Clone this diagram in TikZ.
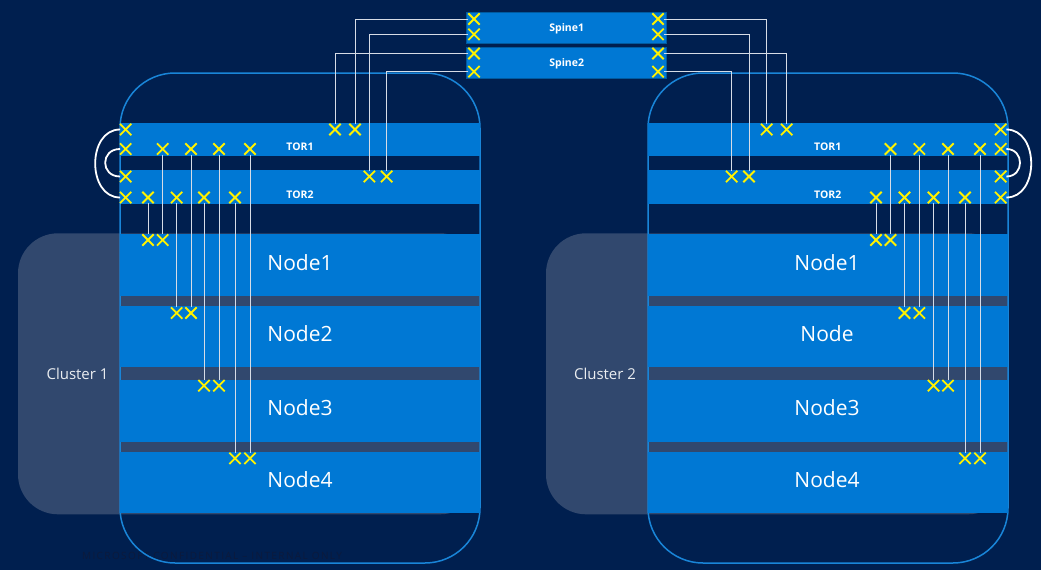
\documentclass[tikz,border=0pt]{standalone}
\usepackage{fontspec}
\setmainfont{Open Sans}
\newfontfamily\noticefont[LetterSpace=14]{Open Sans}
\usetikzlibrary{shapes.misc}
\definecolor{navy}{HTML}{001F4F}
\definecolor{azure}{HTML}{0078D4}
\definecolor{slate}{HTML}{31486E}
\definecolor{portx}{HTML}{FFF200}
\definecolor{wire}{HTML}{D6DCE6}
\definecolor{faint}{HTML}{0C1A3C}
\pgfdeclarelayer{back}
\pgfdeclarelayer{wires}
\pgfsetlayers{back,wires,main}
\begin{document}
\begin{tikzpicture}[x=1pt,y=-1pt,
  band/.style={fill=azure, inner sep=0, minimum width=360pt, draw=none},
  spinebox/.style={fill=azure, draw=azure!75!black, line width=0.8pt,
    minimum width=200pt, minimum height=31pt, inner sep=0},
  port/.style={cross out, draw=portx, line width=1.8pt, minimum size=9.5pt, inner sep=0},
  container/.style={draw=azure!90!white, line width=1.5pt, rounded corners=55pt,
    minimum width=360pt, minimum height=490pt, inner sep=0},
  clusterbg/.style={fill=slate, rounded corners=40pt,
    minimum width=462pt, minimum height=281pt, inner sep=0},
  link/.style={draw=wire, line width=1pt},
  loop/.style={draw=white, line width=1.8pt},
  swlabel/.style={text=white, font=\bfseries\fontsize{10.5}{12}\selectfont, inner sep=0},
  hostlabel/.style={text=white, font=\fontsize{21}{24}\selectfont, inner sep=0},
  grouplabel/.style={text=white!90!slate, font=\fontsize{15}{18}\selectfont, inner sep=0},
]
\useasboundingbox (0,0) rectangle (1041,570);

% ---------- shapes behind the wiring ----------
\begin{pgfonlayer}{back}
  \fill[navy] (0,0) rectangle (1041,570);
  \node[text=faint, font=\noticefont\fontsize{10}{12}\selectfont, inner sep=0]
    (notice) at (212,555.5) {MICROSOFT CONFIDENTIAL – INTERNAL ONLY};
  % cluster panels
  \node[clusterbg] (bg1) at (249,373.8) {};
  \node[clusterbg] (bg2) at (777,373.8) {};
  % rack outlines
  \node[container] (rack1) at (300,318) {};
  \node[container] (rack2) at (828,318) {};
  % switches and servers, cluster 1
  \node[band, minimum height=33pt] (tor1L) at (300,139.2) {};
  \node[band, minimum height=34pt] (tor2L) at (300,187.2) {};
  \node[band, minimum height=62pt] (n1L) at (300,265) {};
  \node[band, minimum height=61.3pt] (n2L) at (300,336.7) {};
  \node[band, minimum height=61.7pt] (n3L) at (300,410.8) {};
  \node[band, minimum height=61.3pt] (n4L) at (300,482.7) {};
  % switches and servers, cluster 2
  \node[band, minimum height=33pt] (tor1R) at (828,139.2) {};
  \node[band, minimum height=34pt] (tor2R) at (828,187.2) {};
  \node[band, minimum height=62pt] (n1R) at (828,265) {};
  \node[band, minimum height=61.3pt] (n2R) at (828,336.7) {};
  \node[band, minimum height=61.7pt] (n3R) at (828,410.8) {};
  \node[band, minimum height=61.3pt] (n4R) at (828,482.7) {};
  % spine switches
  \node[spinebox] (spine1) at (566.7,27.5) {};
  \node[spinebox] (spine2) at (566.7,63.3) {};
\end{pgfonlayer}

% ---------- labels ----------
\node[swlabel] (spine1txt) at (566.7,28.3) {Spine1};
\node[swlabel] (spine2txt) at (566.7,63.8) {Spine2};
\node[swlabel] (tor1Ltxt) at (300,146.7) {TOR1};
\node[swlabel] (tor2Ltxt) at (300,194.3) {TOR2};
\node[swlabel] (tor1Rtxt) at (827.7,146.7) {TOR1};
\node[swlabel] (tor2Rtxt) at (827.7,194.3) {TOR2};
\node[hostlabel] (n1Ltxt) at (300,262.3) {Node1};
\node[hostlabel] (n2Ltxt) at (300,333.3) {Node2};
\node[hostlabel] (n3Ltxt) at (300,407.3) {Node3};
\node[hostlabel] (n4Ltxt) at (300,479.3) {Node4};
\node[hostlabel] (n1Rtxt) at (827,262.3) {Node1};
\node[hostlabel] (n2Rtxt) at (827,333.3) {Node};
\node[hostlabel] (n3Rtxt) at (827,407.3) {Node3};
\node[hostlabel] (n4Rtxt) at (827,479.3) {Node4};
\node[grouplabel] (c1txt) at (77.5,374) {Cluster 1};
\node[grouplabel] (c2txt) at (605,374) {Cluster 2};

% ---------- ports ----------
% spine ports
\foreach \n/\x/\y in {s1la/474/19, s1lb/474/34.3, s2la/474/53.5, s2lb/474/71.7,
                      s1ra/658/19, s1rb/658/34.3, s2ra/658/53.5, s2rb/658/71.7}
  \node[port] (\n) at (\x,\y) {};
% cluster 1 switch ports
\foreach \n/\x/\y in {lc1/125.7/129.5, lc2/125.7/149, lc3/125.7/176.5, lc4/125.7/197.5,
                      lu1/335/129.5, lu2/355/129.5, lu3/369.3/176.5, lu4/386.7/176.5,
                      la1/162.7/149, la2/191/149, la3/219/149, la4/250/149,
                      lb1/148/197.5, lb2/176.7/197.5, lb3/204/197.5, lb4/235/197.5}
  \node[port] (\n) at (\x,\y) {};
% cluster 1 server ports
\foreach \n/\x/\y in {ln1a/148/240, ln1b/162.7/240, ln2a/176.7/313, ln2b/191/313,
                      ln3a/204/385.7, ln3b/219/385.7, ln4a/235/458.3, ln4b/250/458.3}
  \node[port] (\n) at (\x,\y) {};
% cluster 2 switch ports
\foreach \n/\x/\y in {rc1/1000.7/129.5, rc2/1000.7/149, rc3/1000.7/176.5, rc4/1000.7/197.5,
                      ru1/766.7/129.5, ru2/786.7/129.5, ru3/731.7/176.5, ru4/749/176.5,
                      ra1/890.5/149, ra2/919.3/149, ra3/948/149, ra4/980/149,
                      rb1/876/197.5, rb2/904.5/197.5, rb3/933.5/197.5, rb4/965/197.5}
  \node[port] (\n) at (\x,\y) {};
% cluster 2 server ports
\foreach \n/\x/\y in {rn1a/876/240, rn1b/890.5/240, rn2a/904.5/313, rn2b/919.3/313,
                      rn3a/933.5/385.7, rn3b/948/385.7, rn4a/965/458.3, rn4b/980/458.3}
  \node[port] (\n) at (\x,\y) {};

% ---------- wiring ----------
\begin{pgfonlayer}{wires}
  % spine uplinks
  \draw[link] (s1la) -| (lu2);
  \draw[link] (s1lb) -| (lu3);
  \draw[link] (s2la) -| (lu1);
  \draw[link] (s2lb) -| (lu4);
  \draw[link] (s1ra) -| (ru1);
  \draw[link] (s1rb) -| (ru4);
  \draw[link] (s2ra) -| (ru2);
  \draw[link] (s2rb) -| (ru3);
  % server downlinks
  \foreach \t/\h in {lb1/ln1a, la1/ln1b, lb2/ln2a, la2/ln2b,
                     lb3/ln3a, la3/ln3b, lb4/ln4a, la4/ln4b,
                     rb1/rn1a, ra1/rn1b, rb2/rn2a, ra2/rn2b,
                     rb3/rn3a, ra3/rn3b, rb4/rn4a, ra4/rn4b}
    \draw[link] (\t) -- (\h);
  % TOR peer links
  \draw[loop] (lc1) to[out=180,in=180,looseness=1.25] (lc4);
  \draw[loop] (lc2) to[out=180,in=180,looseness=1.85] (lc3);
  \draw[loop] (rc1) to[out=0,in=0,looseness=1.25] (rc4);
  \draw[loop] (rc2) to[out=0,in=0,looseness=1.7] (rc3);
\end{pgfonlayer}
\end{tikzpicture}
\end{document}
